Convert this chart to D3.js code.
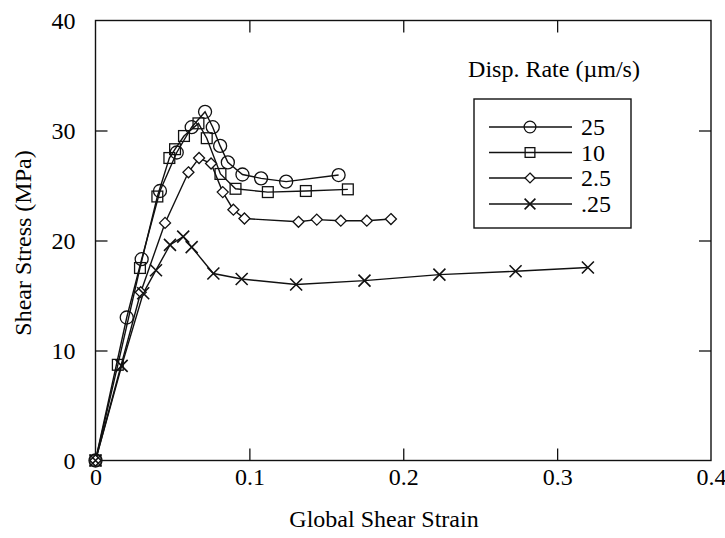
<!DOCTYPE html>
<html>
<head>
<meta charset="utf-8">
<script src="https://cdn.jsdelivr.net/npm/d3@7"></script>
<style>
  body { margin: 0; background: #fff; }
  svg { display: block; }
  text { font-family: "Liberation Serif", "Times New Roman", serif; fill: #000; }
</style>
</head>
<body>
<svg id="chart" width="725" height="538"></svg>
<script>
// Shear stress vs. global shear strain at four displacement rates
const rateLabels = ["25", "10", "2.5", ".25"];
const markerShapes = ["circle", "square", "diamond", "cross"];

const strain25 = [0, 0.0203, 0.030, 0.0419, 0.0528, 0.0625, 0.0712, 0.0762, 0.081, 0.086, 0.0955, 0.1076, 0.1239, 0.158];
const stress25 = [0, 13.0, 18.3, 24.5, 28.0, 30.3, 31.7, 30.3, 28.6, 27.1, 26.0, 25.65, 25.35, 25.95];

const strain10 = [0, 0.0145, 0.0289, 0.0402, 0.048, 0.0517, 0.0575, 0.0669, 0.0723, 0.0812, 0.091, 0.112, 0.1367, 0.164];
const stress10 = [0, 8.7, 17.5, 24.0, 27.5, 28.3, 29.5, 30.65, 29.3, 26.05, 24.7, 24.4, 24.5, 24.65];

const strain2p5 = [0, 0.0294, 0.0452, 0.0604, 0.0673, 0.0751, 0.0827, 0.0896, 0.0968, 0.1319, 0.1438, 0.1594, 0.1763, 0.192];
const stress2p5 = [0, 15.3, 21.6, 26.2, 27.5, 27.0, 24.4, 22.8, 22.0, 21.7, 21.9, 21.8, 21.8, 21.95];

const strain0p25 = [0, 0.017, 0.031, 0.0393, 0.0484, 0.057, 0.0625, 0.0766, 0.095, 0.1304, 0.1748, 0.2235, 0.273, 0.32];
const stress0p25 = [0, 8.6, 15.2, 17.3, 19.6, 20.35, 19.4, 17.0, 16.5, 16.0, 16.35, 16.9, 17.2, 17.55];

const xTicks = [0, 0.1, 0.2, 0.3, 0.4];
const xTickLabels = ["0", "0.1", "0.2", "0.3", "0.4"];
const yTicks = [0, 10, 20, 30, 40];
const yTickLabels = ["0", "10", "20", "30", "40"];

const xTitle = "Global Shear Strain";
const yTitle = "Shear Stress (MPa)";
const legendTitle = "Disp. Rate (\u00b5m/s)";

const seriesStrain = [strain25, strain10, strain2p5, strain0p25];
const seriesStress = [stress25, stress10, stress2p5, stress0p25];
const series = rateLabels.map((label, i) => ({
  label,
  shape: markerShapes[i],
  points: seriesStrain[i].map((s, j) => ({ x: s, y: seriesStress[i][j] }))
}));

const svg = d3.select("#chart");
const plotLeft = 95.5, plotRight = 711, plotTop = 20.5, plotBottom = 460.5;

const x = d3.scaleLinear().domain([0, 0.4]).range([plotLeft, plotRight]);
const y = d3.scaleLinear().domain([0, 40]).range([plotBottom, plotTop]);

const ink = "#111";
const fontSize = 24;

// Frame
svg.append("rect")
  .attr("x", plotLeft).attr("y", plotTop)
  .attr("width", plotRight - plotLeft).attr("height", plotBottom - plotTop)
  .attr("fill", "none").attr("stroke", ink).attr("stroke-width", 1.4);

// Axes with inward ticks
const tickLen = 12;
const gx = svg.append("g").attr("transform", `translate(0,${plotBottom})`)
  .call(d3.axisBottom(x).tickValues(xTicks)
    .tickFormat((d, i) => xTickLabels[i])
    .tickSize(-tickLen).tickPadding(7));
const gy = svg.append("g").attr("transform", `translate(${plotLeft},0)`)
  .call(d3.axisLeft(y).tickValues(yTicks)
    .tickFormat((d, i) => yTickLabels[i])
    .tickSize(-tickLen).tickPadding(20));
const gt = svg.append("g").attr("transform", `translate(0,${plotTop})`)
  .call(d3.axisTop(x).tickValues(xTicks).tickFormat("").tickSize(-tickLen));
const gr = svg.append("g").attr("transform", `translate(${plotRight},0)`)
  .call(d3.axisRight(y).tickValues(yTicks).tickFormat("").tickSize(-tickLen));

[gx, gy, gt, gr].forEach(g => {
  g.select(".domain").remove();
  g.selectAll(".tick line").attr("stroke", ink).attr("stroke-width", 1.3);
  g.selectAll(".tick text")
    .attr("font-family", '"Liberation Serif", "Times New Roman", serif')
    .attr("font-size", fontSize).attr("fill", "#000");
});
// Tick marks at the corners coincide with the frame
gx.selectAll(".tick").filter(d => d === 0 || d === 0.4).select("line").remove();
gt.selectAll(".tick").filter(d => d === 0 || d === 0.4).select("line").remove();
gy.selectAll(".tick").filter(d => d === 0 || d === 40).select("line").remove();
gr.selectAll(".tick").filter(d => d === 0 || d === 40).select("line").remove();

// Axis titles
svg.append("text")
  .attr("x", 384).attr("y", 527)
  .attr("text-anchor", "middle").attr("font-size", fontSize)
  .text(xTitle);
svg.append("text")
  .attr("transform", `translate(31,243) rotate(-90)`)
  .attr("text-anchor", "middle").attr("font-size", fontSize)
  .text(yTitle);

// Marker drawing
function drawMarker(g, shape, cx, cy, s) {
  if (shape === "circle") {
    g.append("circle").attr("cx", cx).attr("cy", cy).attr("r", 6.5 * s)
      .attr("fill", "none").attr("stroke", ink).attr("stroke-width", 1.3);
  } else if (shape === "square") {
    const h = 5.4 * s;
    g.append("rect").attr("x", cx - h).attr("y", cy - h)
      .attr("width", 2 * h).attr("height", 2 * h)
      .attr("fill", "none").attr("stroke", ink).attr("stroke-width", 1.3);
  } else if (shape === "diamond") {
    const h = 5.5 * s;
    g.append("path")
      .attr("d", `M${cx},${cy - h}L${cx + h},${cy}L${cx},${cy + h}L${cx - h},${cy}Z`)
      .attr("fill", "#fff").attr("stroke", ink).attr("stroke-width", 1.3);
  } else {
    const h = 6 * s;
    g.append("path")
      .attr("d", `M${cx - h},${cy - h}L${cx + h},${cy + h}M${cx - h},${cy + h}L${cx + h},${cy - h}`)
      .attr("fill", "none").attr("stroke", ink).attr("stroke-width", 1.6);
  }
}

const line = d3.line().x(d => x(d.x)).y(d => y(d.y));
const plot = svg.append("g");

series.forEach(s => {
  plot.append("path").datum(s.points)
    .attr("d", line)
    .attr("fill", "none").attr("stroke", ink).attr("stroke-width", 1.4);
});
series.forEach(s => {
  const g = plot.append("g");
  s.points.forEach(p => drawMarker(g, s.shape, x(p.x), y(p.y), 1));
});

// Legend
svg.append("text")
  .attr("x", 554).attr("y", 77)
  .attr("text-anchor", "middle").attr("font-size", fontSize)
  .text(legendTitle);
svg.append("rect")
  .attr("x", 474).attr("y", 99).attr("width", 157).attr("height", 129)
  .attr("fill", "#fff").attr("stroke", ink).attr("stroke-width", 1.4);

const legendRows = [127, 152.5, 178, 204];
series.forEach((s, i) => {
  const ly = legendRows[i];
  const g = svg.append("g");
  g.append("line").attr("x1", 489).attr("x2", 572).attr("y1", ly).attr("y2", ly)
    .attr("stroke", ink).attr("stroke-width", 1.4);
  drawMarker(g, s.shape, 530, ly, 0.9);
  g.append("text").attr("x", 581).attr("y", ly + 8)
    .attr("font-size", fontSize).text(s.label);
});
</script>
</body>
</html>
